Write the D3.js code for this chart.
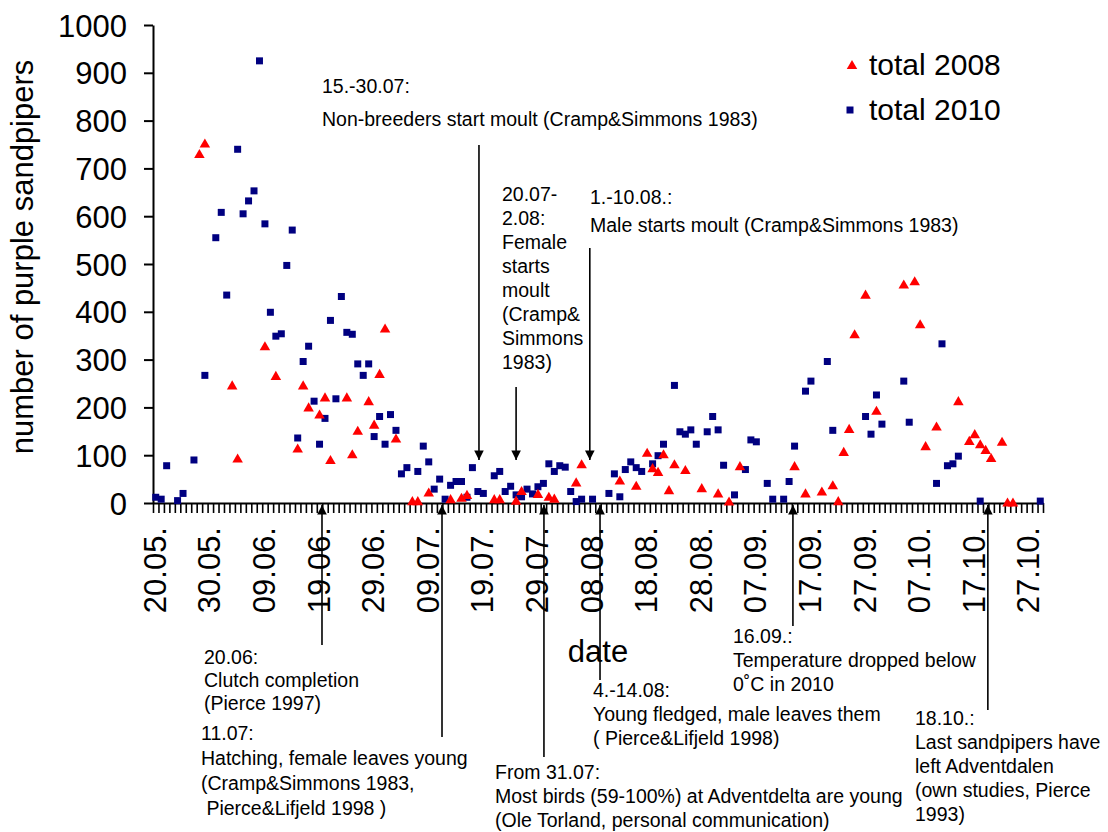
<!DOCTYPE html>
<html>
<head>
<meta charset="utf-8">
<script src="https://cdnjs.cloudflare.com/ajax/libs/d3/7.8.5/d3.min.js"></script>
<style>
  body { margin: 0; background: #fff; }
  svg { display: block; font-family: "Liberation Sans", Arial, sans-serif; }
</style>
</head>
<body>
<svg id="chart" width="1108" height="832"></svg>
<script>
// 2008 counts (red triangles)
const dates2008 = ["28.05", "29.05", "03.06", "04.06", "09.06", "11.06", "15.06", "16.06", "17.06", "19.06",
  "20.06", "21.06", "24.06", "25.06", "26.06", "28.06", "29.06", "30.06", "01.07", "03.07",
  "06.07", "07.07", "09.07", "13.07", "15.07", "16.07", "21.07", "22.07", "25.07", "26.07",
  "29.07", "31.07", "01.08", "05.08", "06.08", "13.08", "16.08", "18.08", "19.08", "20.08",
  "21.08", "22.08", "23.08", "25.08", "28.08", "31.08", "02.09", "04.09", "14.09", "16.09",
  "19.09", "21.09", "22.09", "23.09", "24.09", "25.09", "27.09", "29.09", "04.10", "06.10",
  "07.10", "08.10", "10.10", "14.10", "16.10", "17.10", "18.10", "19.10", "20.10", "22.10",
  "23.10", "24.10"];
const values2008 = [730, 752, 246, 93, 328, 266, 114, 246, 200, 185,
  221, 90, 221, 102, 151, 213, 164, 270, 365, 135,
  4, 4, 22, 8, 11, 17, 8, 8, 5, 25,
  19, 13, 9, 43, 81, 47, 36, 105, 73, 65,
  102, 27, 81, 69, 31, 20, 3, 77, 77, 20,
  24, 37, 4, 107, 155, 353, 436, 193, 457, 464,
  374, 119, 160, 213, 130, 144, 123, 111, 94, 128,
  1, 1];

// 2010 counts (blue squares)
const dates2010 = ["20.05", "21.05", "22.05", "24.05", "25.05", "27.05", "29.05", "31.05", "01.06", "02.06",
  "04.06", "05.06", "06.06", "07.06", "08.06", "09.06", "10.06", "11.06", "12.06", "13.06",
  "14.06", "15.06", "16.06", "17.06", "18.06", "19.06", "20.06", "21.06", "22.06", "23.06",
  "24.06", "25.06", "26.06", "27.06", "28.06", "29.06", "30.06", "01.07", "02.07", "03.07",
  "04.07", "05.07", "07.07", "08.07", "09.07", "10.07", "11.07", "12.07", "13.07", "14.07",
  "15.07", "16.07", "17.07", "18.07", "19.07", "21.07", "22.07", "23.07", "24.07", "25.07",
  "26.07", "27.07", "28.07", "29.07", "30.07", "31.07", "01.08", "02.08", "03.08", "04.08",
  "05.08", "06.08", "08.08", "11.08", "12.08", "13.08", "14.08", "15.08", "16.08", "17.08",
  "19.08", "20.08", "21.08", "23.08", "24.08", "25.08", "26.08", "27.08", "29.08", "30.08",
  "31.08", "01.09", "03.09", "05.09", "06.09", "07.09", "09.09", "10.09", "12.09", "13.09",
  "14.09", "16.09", "17.09", "20.09", "21.09", "27.09", "28.09", "29.09", "30.09", "04.10",
  "05.10", "10.10", "11.10", "12.10", "13.10", "14.10", "18.10", "29.10"];
const values2010 = [12, 8, 78, 5, 20, 90, 267, 555, 608, 435,
  740, 605, 632, 653, 925, 584, 399, 349, 354, 497,
  571, 136, 296, 328, 213, 123, 177, 382, 218, 432,
  357, 353, 291, 267, 291, 139, 181, 123, 185, 152,
  61, 74, 66, 119, 86, 29, 50, 8, 37, 45,
  45, 12, 74, 24, 20, 57, 66, 24, 35, 17,
  13, 29, 19, 34, 41, 82, 66, 78, 75, 24,
  3, 8, 8, 20, 61, 13, 70, 86, 74, 66,
  82, 99, 123, 246, 149, 144, 153, 123, 149, 181,
  153, 79, 17, 70, 132, 128, 41, 8, 8, 45,
  119, 234, 255, 296, 152, 181, 144, 226, 165, 255,
  169, 41, 333, 78, 82, 98, 4, 4];

const yTicks = [0, 100, 200, 300, 400, 500, 600, 700, 800, 900, 1000];
const legendLabels = ["total 2008", "total 2010"];

// annotation notes; "day" is a position on the day axis (0 = start of 20.05)
const notes = [
  { day: 59.7, y1: 145, y2: 460, x: 322, y: 93, lh: 33,
    lines: ["15.-30.07:", "Non-breeders start moult (Cramp&Simmons 1983)"] },
  { day: 66.5, y1: 387, y2: 460, x: 502, y: 201, lh: 24,
    lines: ["20.07-", "2.08:", "Female", "starts", "moult", "(Cramp&", "Simmons", "1983)"] },
  { day: 80.0, y1: 248, y2: 460, x: 590, y: 204, lh: 28,
    lines: ["1.-10.08.:", "Male starts moult (Cramp&Simmons 1983)"] },
  { day: 30.95, y1: 645, y2: 505, x: 204, y: 664, lh: 23,
    lines: ["20.06:", "Clutch completion", "(Pierce 1997)"] },
  { day: 52.93, y1: 737, y2: 505, x: 201, y: 740, lh: 25,
    lines: ["11.07:", "Hatching, female leaves young", "(Cramp&Simmons 1983,", " Pierce&Lifjeld 1998 )"] },
  { day: 71.6, y1: 757, y2: 505, x: 495, y: 779, lh: 24,
    lines: ["From 31.07:", "Most birds (59-100%) at Adventdelta are young", "(Ole Torland, personal communication)"] },
  { day: 81.87, y1: 680, y2: 505, x: 593, y: 697, lh: 24,
    lines: ["4.-14.08:", "Young fledged, male leaves them", "( Pierce&Lifjeld 1998)"] },
  { day: 117.2, y1: 626, y2: 505, x: 733, y: 643, lh: 24,
    lines: ["16.09.:", "Temperature dropped below", "0\u02DAC in 2010"] },
  { day: 152.9, y1: 710, y2: 505, x: 915, y: 725, lh: 24,
    lines: ["18.10.:", "Last sandpipers have", "left Adventdalen", "(own studies, Pierce", "1993)"] }
];

class Chart {
  constructor(svg) {
    this.svg = svg;
    this.left = 153;
    this.right = 1043;
    this.top = 25;
    this.bottom = 503;

    // one category per day, 20.05 - 29.10
    const fmt = d3.timeFormat("%d.%m");
    this.days = d3.timeDay.range(new Date(2010, 4, 20), new Date(2010, 9, 30)).map(fmt);

    this.x = d3.scaleBand().domain(this.days).range([this.left, this.right]).padding(0);
    this.dayScale = d3.scaleLinear().domain([0, this.days.length]).range([this.left, this.right]);
    this.y = d3.scaleLinear().domain([0, 1000]).range([this.bottom, this.top]);
  }

  cx(date) {
    return this.x(date) + this.x.bandwidth() / 2;
  }

  draw() {
    const self = this;
    const svg = self.svg;
    const y = self.y;

    // y axis
    const yAxis = svg
      .append("g")
      .attr("transform", `translate(${self.left},0)`)
      .call(
        d3.axisLeft(y)
          .tickValues(yTicks)
          .tickFormat(d3.format("d"))
          .tickSize(9)
          .tickSizeOuter(0)
          .tickPadding(17)
      );
    yAxis.selectAll("path, line").attr("stroke", "#000").attr("stroke-width", 2);
    yAxis.selectAll("text")
      .attr("font-size", 31)
      .attr("font-family", "Liberation Sans, Arial, sans-serif")
      .attr("fill", "#000")
      .attr("dy", "0.36em");

    // x axis: a tick at every day boundary
    const xAxis = svg
      .append("g")
      .attr("transform", `translate(0,${self.bottom})`)
      .call(
        d3.axisBottom(self.dayScale)
          .tickValues(d3.range(0, self.days.length + 1))
          .tickSize(10)
          .tickSizeOuter(0)
          .tickFormat("")
      );
    xAxis.select("path").attr("stroke", "#000").attr("stroke-width", 2);
    xAxis.selectAll("line").attr("stroke", "#000").attr("stroke-width", 1.6);

    // date labels every 10 days
    const labelDays = self.days.filter((d, i) => i % 10 === 0);
    svg.append("g")
      .selectAll("text")
      .data(labelDays)
      .enter()
      .append("text")
      .attr("transform", d => `translate(${self.cx(d) + 10},527) rotate(-90)`)
      .attr("text-anchor", "end")
      .attr("font-size", 31)
      .text(d => d + ".");

    // axis titles
    svg.append("text")
      .attr("transform", "translate(33,257) rotate(-90)")
      .attr("text-anchor", "middle")
      .attr("font-size", 31)
      .text("number of purple sandpipers");
    svg.append("text")
      .attr("x", 598)
      .attr("y", 662)
      .attr("text-anchor", "middle")
      .attr("font-size", 31)
      .text("date");

    const tri = d3.symbol().type(d3.symbolTriangle).size(48);
    const sq = d3.symbol().type(d3.symbolSquare).size(49);

    // 2010 squares
    svg.append("g")
      .selectAll("path")
      .data(dates2010.map((d, i) => ({ date: d, value: values2010[i] })))
      .enter()
      .append("path")
      .attr("d", sq)
      .attr("fill", "#000080")
      .attr("transform", d => `translate(${self.cx(d.date)},${y(d.value)})`);

    // 2008 triangles
    svg.append("g")
      .selectAll("path")
      .data(dates2008.map((d, i) => ({ date: d, value: values2008[i] })))
      .enter()
      .append("path")
      .attr("d", tri)
      .attr("fill", "#ff0000")
      .attr("transform", d => `translate(${self.cx(d.date)},${y(d.value) + 1})`);

    // legend
    const legend = svg.append("g");
    legend.append("path").attr("d", tri).attr("fill", "#ff0000").attr("transform", "translate(852,66)");
    legend.append("path").attr("d", sq).attr("fill", "#000080").attr("transform", "translate(850,110)");
    legend.selectAll("text")
      .data(legendLabels)
      .enter()
      .append("text")
      .attr("x", 869)
      .attr("y", (d, i) => 75 + i * 45)
      .attr("font-size", 30)
      .text(d => d);

    // annotations with arrows
    const defs = svg.append("defs");
    defs.append("marker")
      .attr("id", "head")
      .attr("viewBox", "0 0 10 10")
      .attr("refX", 10)
      .attr("refY", 5)
      .attr("markerWidth", 6)
      .attr("markerHeight", 6)
      .attr("markerUnits", "strokeWidth")
      .attr("orient", "auto")
      .append("path")
      .attr("d", "M0,0L10,5L0,10Z")
      .attr("fill", "#000");

    const g = svg.append("g");
    notes.forEach(n => {
      const ax = self.dayScale(n.day);
      g.append("line")
        .attr("x1", ax)
        .attr("x2", ax)
        .attr("y1", n.y1)
        .attr("y2", n.y2)
        .attr("stroke", "#000")
        .attr("stroke-width", 1.6)
        .attr("marker-end", "url(#head)");
      const t = g.append("text").attr("font-size", 19.5).attr("fill", "#000");
      n.lines.forEach((line, i) => {
        t.append("tspan")
          .attr("x", n.x)
          .attr("y", n.y + i * n.lh)
          .attr("xml:space", "preserve")
          .text(line);
      });
    });
  }
}

const chart = new Chart(d3.select("#chart"));
chart.draw();
</script>
</body>
</html>
